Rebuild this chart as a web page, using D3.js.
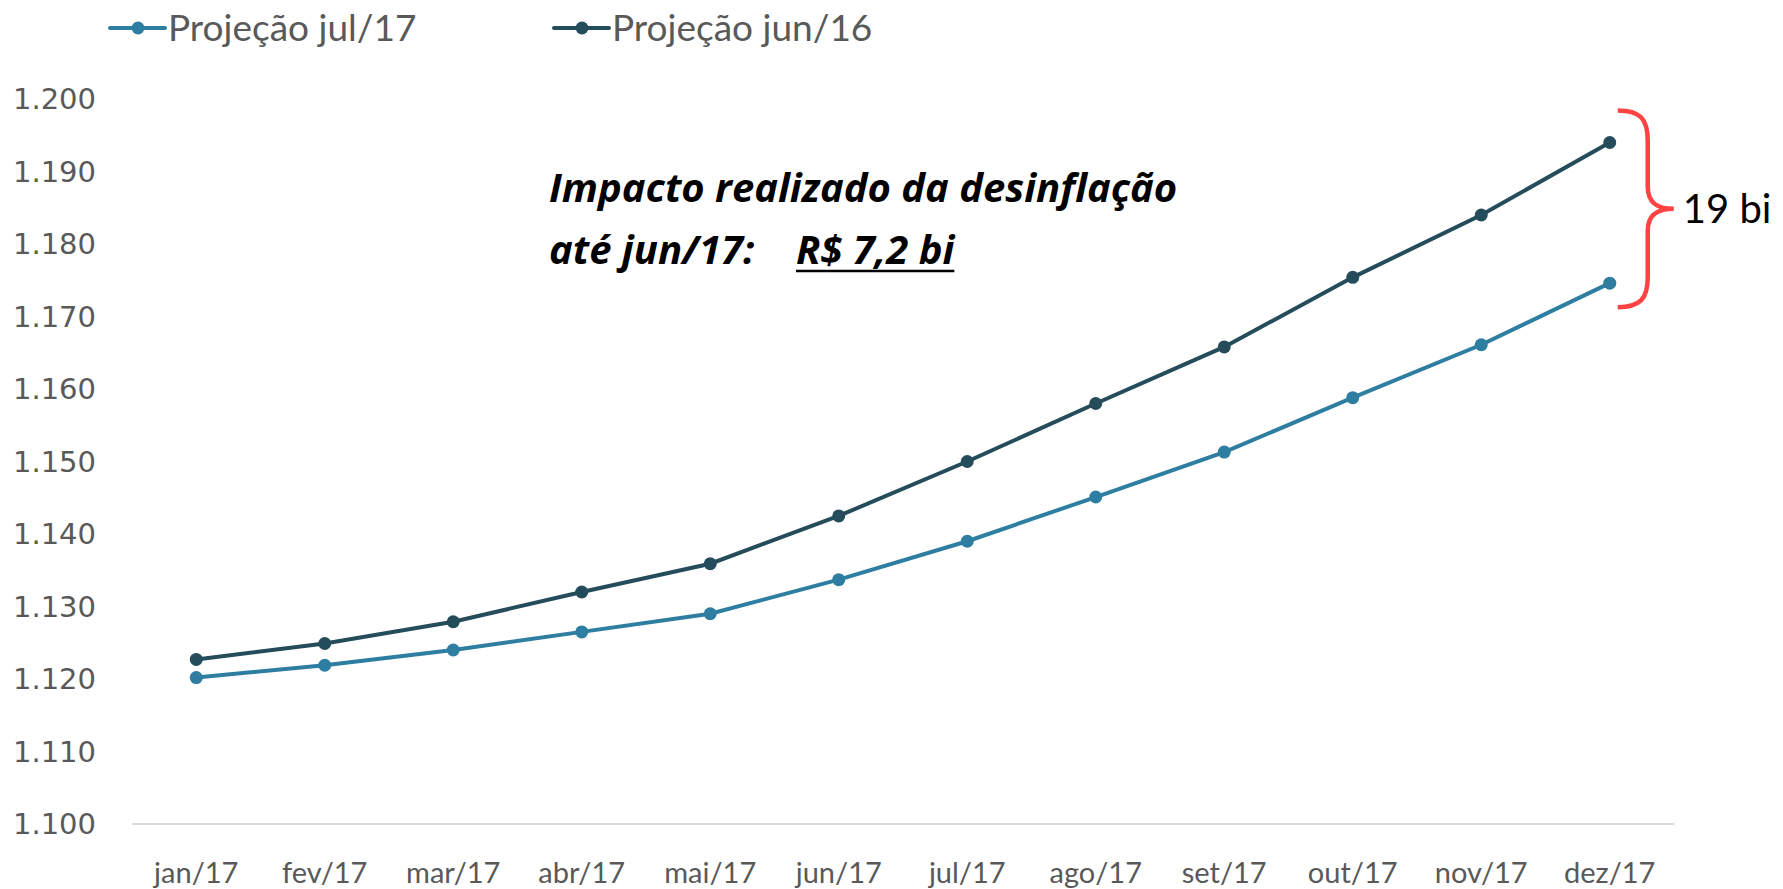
<!DOCTYPE html>
<html>
<head>
<meta charset="utf-8">
<script src="https://cdn.jsdelivr.net/npm/d3@7"></script>
<style>
  body { margin: 0; background: #fff; }
  svg { display: block; }
</style>
</head>
<body>
<svg width="1783" height="889"></svg>
<script>
// months on the x axis
var months = ['jan/17','fev/17','mar/17','abr/17','mai/17','jun/17',
              'jul/17','ago/17','set/17','out/17','nov/17','dez/17'];

// projections, R$ bi
var projJul17 = [1120.2, 1121.9, 1124.0, 1126.5, 1129.0, 1133.7,
                 1139.0, 1145.1, 1151.3, 1158.8, 1166.1, 1174.6];
var projJun16 = [1122.7, 1124.9, 1127.9, 1132.0, 1135.9, 1142.5,
                 1150.0, 1158.0, 1165.8, 1175.4, 1184.0, 1194.0];

var yTicks = [1100, 1110, 1120, 1130, 1140, 1150, 1160, 1170, 1180, 1190, 1200];

var seriesNames = ['Projeção jul/17', 'Projeção jun/16'];
var seriesColors = ['#2e7ea2', '#244c5a'];

var ptBR = d3.formatLocale({decimal: ',', thousands: '.', grouping: [3], currency: ['R$', '']});
var fmt = ptBR.format(',.0f');

var svg = d3.select('svg');

var x = d3.scalePoint()
    .domain(months)
    .range([132, 1674])
    .padding(0.5);

var y = d3.scaleLinear()
    .domain([1100, 1200])
    .range([824, 99]);

// y labels (no gridlines except the base line)
svg.append('g')
    .selectAll('text')
    .data(yTicks)
    .enter()
    .append('text')
        .attr('x', 96)
        .attr('y', d => y(d))
        .attr('dy', '0.36em')
        .style('text-anchor', 'end')
        .style('font-family', 'DejaVu Sans')
        .style('font-size', '29px')
        .style('fill', '#595959')
        .text(d => fmt(d));

// base line
svg.append('line')
    .attr('x1', 132).attr('x2', 1674)
    .attr('y1', y(1100)).attr('y2', y(1100))
    .style('stroke', '#d9d9d9')
    .style('stroke-width', 2);

// x labels
svg.append('g')
    .selectAll('text')
    .data(months)
    .enter()
    .append('text')
        .attr('x', d => x(d))
        .attr('y', 883)
        .style('text-anchor', 'middle')
        .style('font-family', 'Lato')
        .style('font-size', '29px')
        .style('fill', '#595959')
        .text(d => d);

var series = [projJul17, projJun16];

var line = d3.line()
    .x((d, i) => x(months[i]))
    .y(d => y(d));

series.forEach(function(values, s) {
    var g = svg.append('g');
    g.append('path')
        .datum(values)
        .attr('d', line)
        .style('fill', 'none')
        .style('stroke', seriesColors[s])
        .style('stroke-width', 4);
    g.selectAll('circle')
        .data(values)
        .enter()
        .append('circle')
            .attr('cx', (d, i) => x(months[i]))
            .attr('cy', d => y(d))
            .attr('r', 6.5)
            .style('fill', seriesColors[s]);
});

// legend
var legendX = [110, 554];
seriesNames.forEach(function(name, i) {
    var lg = svg.append('g').attr('transform', 'translate(' + legendX[i] + ',28)');
    lg.append('line')
        .attr('x1', 0).attr('x2', 55)
        .style('stroke', seriesColors[i])
        .style('stroke-width', 4)
        .style('stroke-linecap', 'round');
    lg.append('circle')
        .attr('cx', 28).attr('r', 6.5)
        .style('fill', seriesColors[i]);
    lg.append('text')
        .attr('x', 58)
        .attr('dy', '0.36em')
        .style('font-family', 'Lato')
        .style('font-size', '37px')
        .style('fill', '#595959')
        .text(name);
});

// annotation
var note = svg.append('g')
    .style('font-family', 'Open Sans')
    .style('font-weight', 'bold')
    .style('font-style', 'italic')
    .style('font-size', '40px')
    .style('fill', '#000');
note.append('text').attr('x', 549).attr('y', 202).text('Impacto realizado da desinflação');
note.append('text').attr('x', 549).attr('y', 264).text('até jun/17:');
var amount = note.append('text').attr('x', 796).attr('y', 264).text('R$ 7,2 bi');
var aw = amount.node().getComputedTextLength();
note.append('line')
    .attr('x1', 796).attr('x2', 796 + aw)
    .attr('y1', 271).attr('y2', 271)
    .style('stroke', '#000')
    .style('stroke-width', 2.5);

// brace at dez/17
var last = months.length - 1;
var bx = x(months[last]) + 8;
var braceTop = y(projJun16[last]) - 32;
var braceBot = y(projJul17[last]) + 24;
var mid = (braceTop + braceBot) / 2;
var brace = d3.path();
brace.moveTo(bx, braceTop);
brace.bezierCurveTo(bx + 22, braceTop, bx + 30, braceTop + 8, bx + 30, braceTop + 30);
brace.lineTo(bx + 30, mid - 22);
brace.bezierCurveTo(bx + 30, mid - 4, bx + 42, mid, bx + 56, mid);
brace.bezierCurveTo(bx + 42, mid, bx + 30, mid + 4, bx + 30, mid + 22);
brace.lineTo(bx + 30, braceBot - 30);
brace.bezierCurveTo(bx + 30, braceBot - 8, bx + 22, braceBot, bx, braceBot);
svg.append('path')
    .attr('d', brace.toString())
    .style('fill', 'none')
    .style('stroke', '#ff4343')
    .style('stroke-width', 4.5);

svg.append('text')
    .attr('x', bx + 65)
    .attr('y', mid)
    .attr('dy', '0.36em')
    .style('font-family', 'Lato')
    .style('font-size', '40px')
    .style('fill', '#000')
    .text(fmt(projJun16[last] - projJul17[last]) + ' bi');
</script>
</body>
</html>
